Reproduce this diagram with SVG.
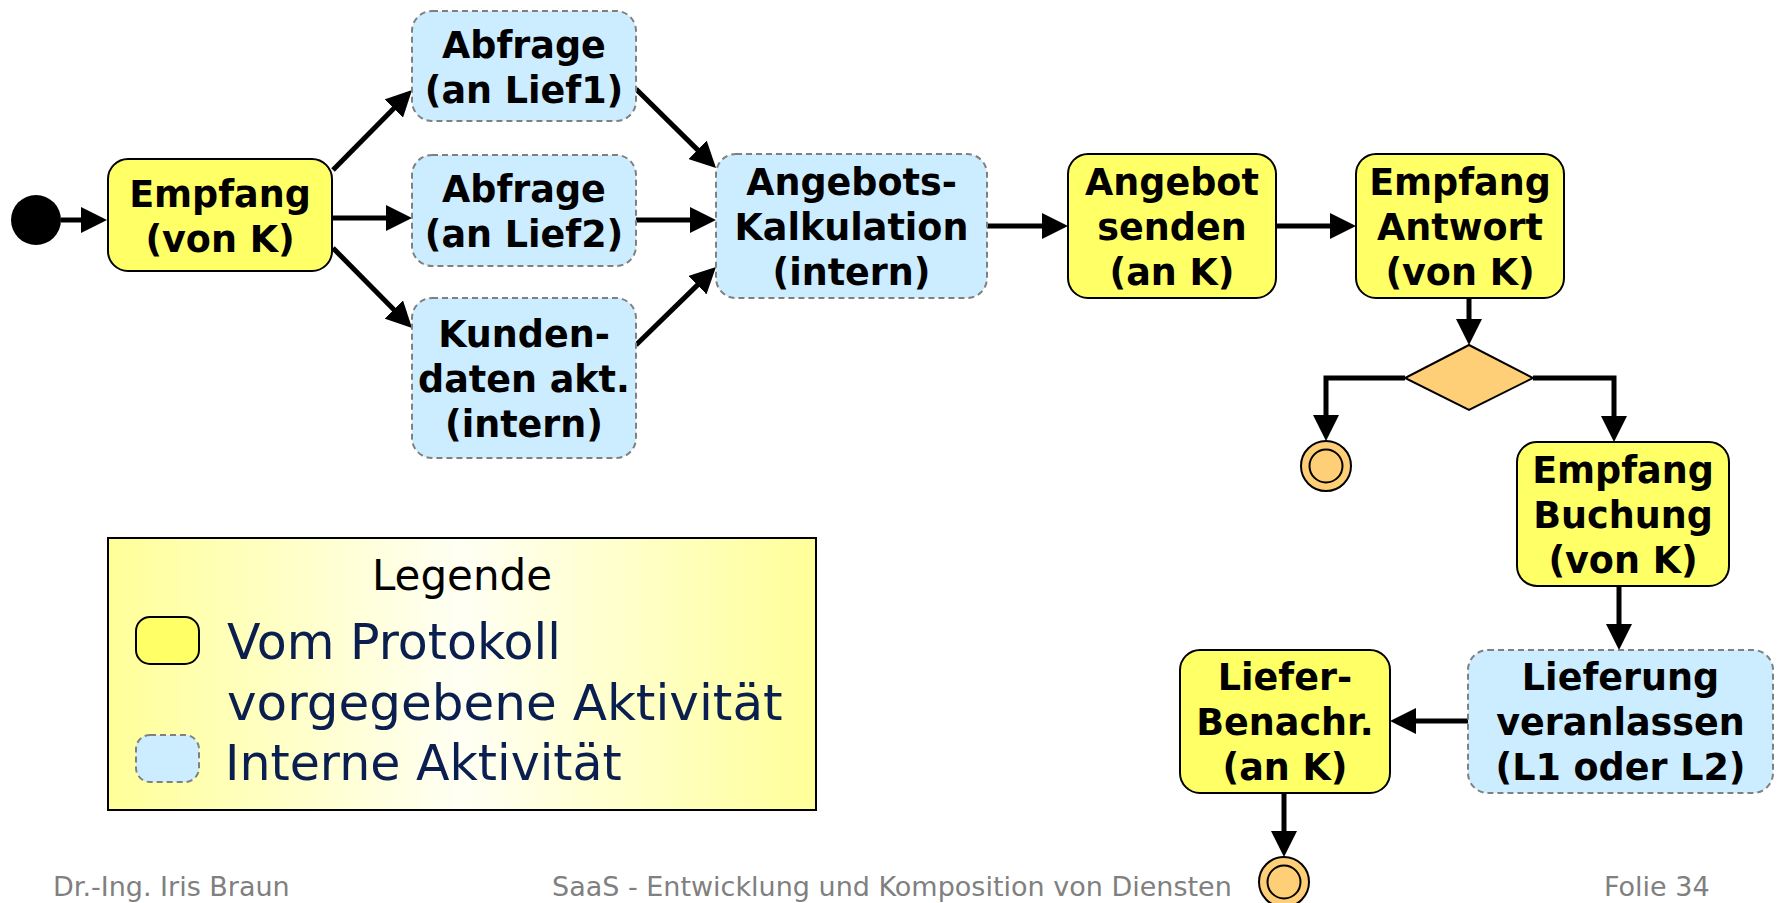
<svg xmlns="http://www.w3.org/2000/svg" width="1779" height="903" viewBox="0 0 1779 903">
  <defs>
    <marker id="arrow" markerUnits="userSpaceOnUse" markerWidth="26" markerHeight="26" refX="14" refY="13" orient="auto">
      <path d="M0,0 L26,13 L0,26 Z" fill="#000"/>
    </marker>
    <linearGradient id="legendFill" x1="0" y1="0" x2="1" y2="0">
      <stop offset="0" stop-color="#FFFF99"/>
      <stop offset="0.5" stop-color="#FFFFF4"/>
      <stop offset="1" stop-color="#FFFF99"/>
    </linearGradient>
    <style>
      .proto { fill: #FFFF66; stroke: #000; stroke-width: 2; }
      .intern { fill: #CCECFF; stroke: #808080; stroke-width: 2; stroke-dasharray: 6 4; }
      .final { fill: #FFCF77; stroke: #000; stroke-width: 2; }
      .lbl { font-family: "DejaVu Sans", Verdana, sans-serif; font-weight: bold; font-size: 36.5px; fill: #000; text-anchor: middle; }
      .conn { fill: none; stroke: #000; stroke-width: 5; marker-end: url(#arrow); }
      .leg { font-family: "DejaVu Sans", Verdana, sans-serif; fill: #0A1F4F; }
      .foot { font-family: "DejaVu Sans", Verdana, sans-serif; font-size: 27px; fill: #808080; }
    </style>
  </defs>

  <!-- connectors -->
  <g id="connectors">
    <path class="conn" d="M61,220 H95"/>
    <path class="conn" d="M333,170 L403.6,98.5"/>
    <path class="conn" d="M333,218 H400"/>
    <path class="conn" d="M333,248 L403.6,319.5"/>
    <path class="conn" d="M636,89 L707.5,159.6"/>
    <path class="conn" d="M636,220 H704"/>
    <path class="conn" d="M636,345 L707.4,275.4"/>
    <path class="conn" d="M987,226 H1056"/>
    <path class="conn" d="M1276,226 H1344"/>
    <path class="conn" d="M1469,298 V333"/>
    <path class="conn" d="M1405,378 H1326 V429"/>
    <path class="conn" d="M1533,378 H1614 V430"/>
    <path class="conn" d="M1619,586 V638"/>
    <path class="conn" d="M1468,721 H1402"/>
    <path class="conn" d="M1284,793 V845"/>
  </g>

  <!-- start node -->
  <g id="start">
    <circle cx="36" cy="220" r="25" fill="#000"/>
  </g>

  <g id="empfang">
    <rect class="proto" x="108" y="159" width="224" height="112" rx="20"/>
    <text class="lbl" x="220" y="207">Empfang</text>
    <text class="lbl" x="220" y="252">(von K)</text>
  </g>

  <g id="abfrage1">
    <rect class="intern" x="412" y="11" width="224" height="110" rx="20"/>
    <text class="lbl" x="524" y="58">Abfrage</text>
    <text class="lbl" x="524" y="103">(an Lief1)</text>
  </g>

  <g id="abfrage2">
    <rect class="intern" x="412" y="155" width="224" height="111" rx="20"/>
    <text class="lbl" x="524" y="202">Abfrage</text>
    <text class="lbl" x="524" y="247">(an Lief2)</text>
  </g>

  <g id="kundendaten">
    <rect class="intern" x="412" y="298" width="224" height="160" rx="20"/>
    <text class="lbl" x="524" y="347">Kunden-</text>
    <text class="lbl" x="524" y="392">daten akt.</text>
    <text class="lbl" x="524" y="437">(intern)</text>
  </g>

  <g id="kalkulation">
    <rect class="intern" x="716" y="154" width="271" height="144" rx="20"/>
    <text class="lbl" x="851.5" y="195">Angebots-</text>
    <text class="lbl" x="851.5" y="240">Kalkulation</text>
    <text class="lbl" x="851.5" y="285">(intern)</text>
  </g>

  <g id="angebot-senden">
    <rect class="proto" x="1068" y="154" width="208" height="144" rx="20"/>
    <text class="lbl" x="1172" y="195">Angebot</text>
    <text class="lbl" x="1172" y="240">senden</text>
    <text class="lbl" x="1172" y="285">(an K)</text>
  </g>

  <g id="empfang-antwort">
    <rect class="proto" x="1356" y="154" width="208" height="144" rx="20"/>
    <text class="lbl" x="1460" y="195">Empfang</text>
    <text class="lbl" x="1460" y="240">Antwort</text>
    <text class="lbl" x="1460" y="285">(von K)</text>
  </g>

  <g id="decision">
    <polygon class="final" points="1469,345 1533,378 1469,410 1405,378"/>
  </g>

  <g id="end-reject">
    <circle class="final" cx="1326" cy="466" r="25"/>
    <circle fill="none" stroke="#000" stroke-width="2" cx="1326" cy="466" r="16.5"/>
  </g>

  <g id="empfang-buchung">
    <rect class="proto" x="1517" y="442" width="212" height="144" rx="20"/>
    <text class="lbl" x="1623" y="483">Empfang</text>
    <text class="lbl" x="1623" y="528">Buchung</text>
    <text class="lbl" x="1623" y="573">(von K)</text>
  </g>

  <g id="lieferung">
    <rect class="intern" x="1468" y="650" width="305" height="143" rx="20"/>
    <text class="lbl" x="1620.5" y="690">Lieferung</text>
    <text class="lbl" x="1620.5" y="735">veranlassen</text>
    <text class="lbl" x="1620.5" y="780">(L1 oder L2)</text>
  </g>

  <g id="liefer-benachr">
    <rect class="proto" x="1180" y="650" width="210" height="143" rx="20"/>
    <text class="lbl" x="1285" y="690">Liefer-</text>
    <text class="lbl" x="1285" y="735">Benachr.</text>
    <text class="lbl" x="1285" y="780">(an K)</text>
  </g>

  <g id="end-done">
    <circle class="final" cx="1284" cy="882" r="25"/>
    <circle fill="none" stroke="#000" stroke-width="2" cx="1284" cy="882" r="16.5"/>
  </g>

  <!-- legend -->
  <g id="legend">
    <rect x="108" y="538" width="708" height="272" fill="url(#legendFill)" stroke="#000" stroke-width="2"/>
    <text x="462" y="590" font-family="DejaVu Sans, Verdana, sans-serif" font-size="42" fill="#000" text-anchor="middle">Legende</text>
    <rect class="proto" x="136" y="617" width="63" height="47" rx="14"/>
    <rect class="intern" x="136" y="735" width="63" height="47" rx="14"/>
    <text class="leg" x="227" y="659" font-size="49">Vom Protokoll</text>
    <text class="leg" x="227" y="720" font-size="50">vorgegebene Aktivität</text>
    <text class="leg" x="225" y="780" font-size="49">Interne Aktivität</text>
  </g>

  <!-- footer -->
  <g id="footer">
    <text class="foot" x="53" y="896">Dr.-Ing. Iris Braun</text>
    <text class="foot" x="552" y="896">SaaS - Entwicklung und Komposition von Diensten</text>
    <text class="foot" x="1604" y="896">Folie 34</text>
  </g>
</svg>
